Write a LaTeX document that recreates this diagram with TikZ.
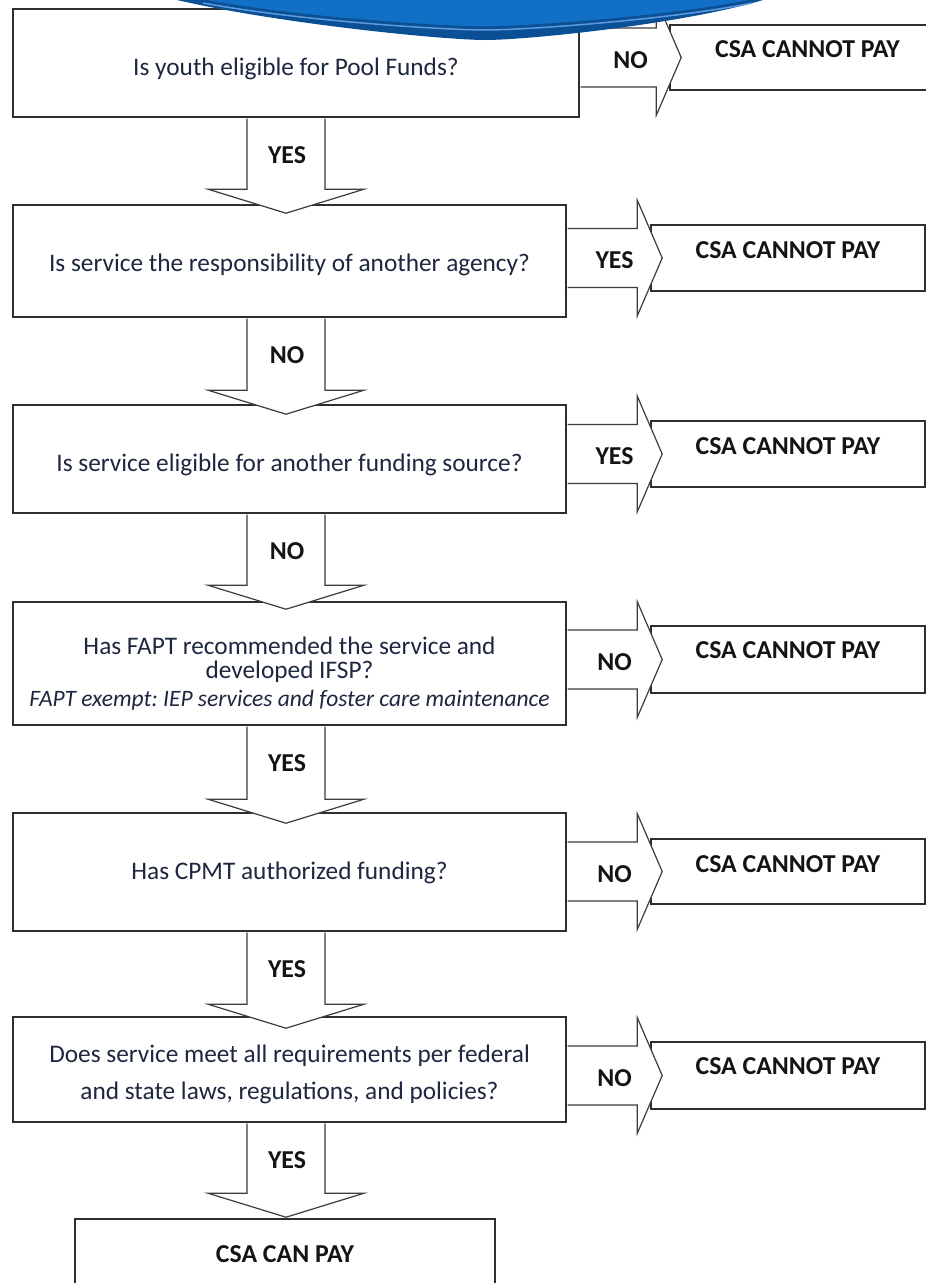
\documentclass[tikz,border=0pt]{standalone}
\usepackage{fontspec}
\setmainfont{Carlito}
\usetikzlibrary{calc}
\definecolor{qcol}{HTML}{1E2740}
\definecolor{lcol}{HTML}{141414}
\definecolor{boxcol}{HTML}{2E2E2E}
\definecolor{arrcol}{HTML}{3C3C3C}
\definecolor{ovmain}{HTML}{1170C5}
\definecolor{ovdark}{HTML}{0B4F95}
\definecolor{ovlight}{HTML}{5D9BE0}
\newcommand{\dnarrow}[4]{%
  \path (ax |- #1.south) coordinate (s) ($(ax |- #2.north)+(0,#4)$) coordinate (t);
  \draw[blk] ($(s)+(-39,0.8)$) -- ($(t)+(-39,-24)$) -- ($(t)+(-78,-24)$) -- (t)
     -- ($(t)+(78,-24)$) -- ($(t)+(39,-24)$) -- ($(s)+(39,0.8)$);
  \node[lbl] at ($(s)+(1,37)$) {#3};
}
\newcommand{\rtarrow}[3]{%
  \path (#1.east |- #2.west) coordinate (s) (#2.west) coordinate (w);
  \draw[blk] ($(s)+(0.8,-29.5)$) -- ($(w)+(-13,-29.5)$) -- ($(w)+(-13,-58)$) -- ($(w)+(12,0)$)
     -- ($(w)+(-13,58)$) -- ($(w)+(-13,29.5)$) -- ($(s)+(0.8,29.5)$);
  \node[lbl] at ($(s)!0.5!(w)+(6,2.5)$) {#3};
}
\begin{document}
\frenchspacing
\begin{tikzpicture}[x=1pt,y=-1pt,
  nbox/.style={draw=boxcol, line width=1.6pt, fill=white, inner sep=0pt},
  qlab/.style={text=qcol, font=\fontsize{25.3}{30}\selectfont, align=center,
     inner sep=0pt, anchor=center},
  lbl/.style={text=lcol, font=\fontsize{25.8}{30}\selectfont\bfseries, inner sep=0pt},
  blk/.style={draw=arrcol, line width=1.2pt, fill=white, line join=miter}]
\useasboundingbox (0,0) rectangle (926,1283);
\clip (0,0) rectangle (926,1283);
\fill[white] (0,0) rectangle (926,1283);
\coordinate (ax) at (286,0);

% question boxes
\node[nbox, minimum width=566pt, minimum height=108pt,
  label={[qlab,yshift=-6pt]center:Is youth eligible for Pool Funds?}] (b1) at (296,63) {};
\node[nbox, minimum width=553pt, minimum height=112pt,
  label={[qlab,yshift=-4pt]center:Is service the responsibility of another agency?}] (b2) at (289.5,261) {};
\node[nbox, minimum width=553pt, minimum height=108pt,
  label={[qlab,yshift=-6pt]center:Is service eligible for another funding source?}] (b3) at (289.5,459) {};
\node[nbox, minimum width=553pt, minimum height=123pt,
  label={[qlab,font=\fontsize{25.3}{24}\selectfont,yshift=-10pt]center:{Has FAPT recommended the service and\\ developed IFSP?\\[4pt] {\fontsize{23.5}{24}\selectfont\itshape FAPT exempt: IEP services and foster care maintenance}}}] (b4) at (289.5,663.5) {};
\node[nbox, minimum width=553pt, minimum height=118pt,
  label={[qlab,yshift=-1pt]center:Has CPMT authorized funding?}] (b5) at (289.5,872) {};
\node[nbox, minimum width=553pt, minimum height=105pt,
  label={[qlab,font=\fontsize{25.3}{37}\selectfont,yshift=-5pt]center:{Does service meet all requirements per federal\\ and state laws, regulations, and policies?}}] (b6) at (289.5,1069.5) {};
\node[nbox, minimum width=420pt, minimum height=111pt,
  label={[lbl,anchor=center,yshift=-36pt]north:CSA CAN PAY}] (bf) at (285,1274.5) {};

% outcome boxes
\node[nbox, minimum width=275pt, minimum height=65pt, label={[lbl,anchor=center,yshift=-25pt]north:CSA CANNOT PAY}] (c1) at (807.5,57.5) {};
\node[nbox, minimum width=274pt, minimum height=66pt, label={[lbl,anchor=center,yshift=-26pt]north:CSA CANNOT PAY}] (c2) at (788,258) {};
\node[nbox, minimum width=274pt, minimum height=66pt, label={[lbl,anchor=center,yshift=-26pt]north:CSA CANNOT PAY}] (c3) at (788,454) {};
\node[nbox, minimum width=274pt, minimum height=67pt, label={[lbl,anchor=center,yshift=-25pt]north:CSA CANNOT PAY}] (c4) at (788,659.5) {};
\node[nbox, minimum width=274pt, minimum height=65pt, label={[lbl,anchor=center,yshift=-26pt]north:CSA CANNOT PAY}] (c5) at (788,871.5) {};
\node[nbox, minimum width=274pt, minimum height=67pt, label={[lbl,anchor=center,yshift=-25pt]north:CSA CANNOT PAY}] (c6) at (788,1075.5) {};

% down arrows
\dnarrow{b1}{b2}{YES}{9}
\dnarrow{b2}{b3}{NO}{10}
\dnarrow{b3}{b4}{NO}{8}
\dnarrow{b4}{b5}{YES}{11}
\dnarrow{b5}{b6}{YES}{12}
\dnarrow{b6}{bf}{YES}{-1}

% right arrows
\rtarrow{b1}{c1}{NO}
\rtarrow{b2}{c2}{YES}
\rtarrow{b3}{c3}{YES}
\rtarrow{b4}{c4}{NO}
\rtarrow{b5}{c5}{NO}
\rtarrow{b6}{c6}{NO}

% blue oval at the top
\fill[ovdark] (140,-40) -- (177,0) .. controls (281,24) and (445,40) .. (485,40)
   .. controls (528,40) and (683,24) .. (763,0) -- (800,-40) -- cycle;
\draw[ovlight, line width=1.5pt, shift={(0,3)}] (203,0) .. controls (300,18) and (445,27) .. (485,27)
   .. controls (528,27) and (675,16) .. (752,0);
\filldraw[fill=ovmain, draw=ovdark, line width=1.2pt] (170,-40) -- (203,0) .. controls (300,18) and (445,27) .. (485,27)
   .. controls (528,27) and (675,16) .. (752,0) -- (790,-40) -- cycle;
\end{tikzpicture}
\end{document}
